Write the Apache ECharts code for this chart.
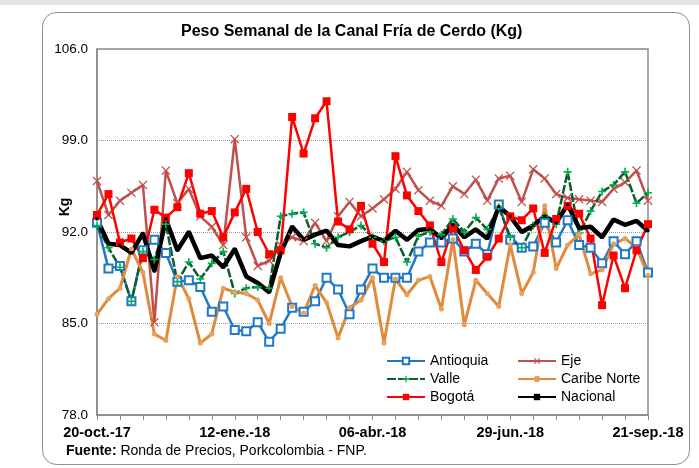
<!DOCTYPE html>
<html>
<head>
<meta charset="utf-8">
<script src="https://cdn.jsdelivr.net/npm/echarts@6/dist/echarts.min.js"></script>
<style>
  html, body { margin: 0; padding: 0; background: #fff; }
  #chart { width: 699px; height: 468px; }
</style>
</head>
<body>
<div id="chart"></div>
<script>
// semanas (viernes) de 20-oct.-17 a 21-sep.-18
var semanas = [
    '20-oct.-17', '27-oct.-17', '03-nov.-17', '10-nov.-17', '17-nov.-17', '24-nov.-17',
    '01-dic.-17', '08-dic.-17', '15-dic.-17', '22-dic.-17', '29-dic.-17', '05-ene.-18',
    '12-ene.-18', '19-ene.-18', '26-ene.-18', '02-feb.-18', '09-feb.-18', '16-feb.-18',
    '23-feb.-18', '02-mar.-18', '09-mar.-18', '16-mar.-18', '23-mar.-18', '30-mar.-18',
    '06-abr.-18', '13-abr.-18', '20-abr.-18', '27-abr.-18', '04-may.-18', '11-may.-18',
    '18-may.-18', '25-may.-18', '01-jun.-18', '08-jun.-18', '15-jun.-18', '22-jun.-18',
    '29-jun.-18', '06-jul.-18', '13-jul.-18', '20-jul.-18', '27-jul.-18', '03-ago.-18',
    '10-ago.-18', '17-ago.-18', '24-ago.-18', '31-ago.-18', '07-sep.-18', '14-sep.-18',
    '21-sep.-18'
];

var antioquia = [92.7, 89.2, 89.4, 86.7, 90.6, 91.4, 90.4, 88.2, 88.3, 87.8, 85.9, 86.3,
    84.5, 84.4, 85.1, 83.6, 84.6, 86.2, 85.9, 86.7, 88.5, 87.6, 85.7, 87.6,
    89.2, 88.5, 88.5, 88.5, 90.5, 91.2, 91.2, 91.5, 90.5, 91.1, 90.3, 94.1,
    91.4, 90.8, 90.9, 92.7, 91.2, 92.9, 91.0, 90.8, 89.6, 91.3, 90.3, 91.3, 88.9];

var eje = [95.9, 93.3, 94.4, 95.0, 95.6, 85.1, 96.7, 94.2, 95.3, 93.2, 92.4, 91.0,
    99.1, 91.6, 89.4, 89.8, 91.0, 91.6, 91.3, 92.7, 91.3, 93.2, 94.3, 93.2,
    93.8, 94.5, 95.3, 96.6, 95.2, 94.4, 94.0, 95.5, 94.9, 96.0, 94.4, 96.1,
    96.3, 94.3, 96.8, 96.1, 94.9, 94.6, 94.5, 94.4, 94.3, 95.3, 95.8, 96.7, 94.4];

var valle = [92.5, 90.8, 89.3, 86.7, 90.5, 89.9, 92.6, 88.2, 89.7, 88.4, 89.6, 90.5,
    87.3, 87.7, 87.8, 87.7, 93.2, 93.4, 93.5, 91.1, 90.8, 91.6, 92.0, 92.5,
    91.6, 91.3, 91.6, 89.7, 91.7, 92.0, 91.8, 93.0, 92.0, 93.1, 92.2, 93.9,
    91.6, 90.8, 92.5, 93.2, 92.6, 96.6, 91.9, 93.6, 95.1, 95.6, 96.6, 94.2, 95.0];

var caribeNorte = [85.7, 86.9, 87.7, 90.7, 88.9, 84.2, 83.7, 88.6, 86.9, 83.5, 84.2, 87.7,
    87.4, 87.3, 86.8, 85.0, 88.5, 86.3, 85.8, 87.9, 86.6, 83.9, 86.2, 86.8,
    88.5, 83.5, 88.4, 87.2, 88.3, 88.6, 86.1, 91.4, 84.9, 88.3, 87.3, 86.3,
    91.0, 87.3, 88.9, 94.0, 89.2, 91.0, 91.8, 88.8, 89.1, 91.1, 91.5, 90.8, 88.7];

var bogota = [93.3, 94.9, 91.2, 91.5, 90.0, 93.7, 93.1, 93.9, 96.5, 93.4, 93.6, 91.6,
    93.5, 95.3, 92.0, 90.3, 90.6, 100.8, 98.0, 100.7, 102.0, 92.8, 92.2, 94.0,
    91.1, 89.7, 97.8, 94.8, 93.6, 92.5, 89.7, 92.3, 90.6, 89.1, 90.1, 91.5,
    93.2, 92.9, 93.8, 90.4, 93.0, 94.0, 93.4, 91.5, 86.4, 90.2, 87.7, 90.6, 92.6];

var nacional = [93.0, 91.1, 91.0, 90.4, 91.9, 89.0, 93.0, 90.6, 92.0, 90.0, 90.2, 89.3,
    90.7, 88.6, 88.1, 87.4, 90.4, 92.4, 91.4, 91.8, 92.1, 91.0, 90.9, 91.3,
    91.65, 91.3, 92.1, 91.4, 92.15, 92.25, 91.5, 92.55, 91.6, 92.2, 91.5, 93.95,
    93.2, 92.0, 92.5, 93.2, 92.7, 94.1, 92.3, 92.4, 91.6, 92.95, 92.55, 92.85, 92.1];

var fuente = 'Liberation Sans, Arial, sans-serif';

// marcadores propios
var simboloX = 'path://M0,1 L1,0 L5,4 L9,0 L10,1 L6,5 L10,9 L9,10 L5,6 L1,10 L0,9 L4,5 Z';
var simboloMas = 'path://M4,0 L6,0 L6,4 L10,4 L10,6 L6,6 L6,10 L4,10 L4,6 L0,6 L0,4 L4,4 Z';

var chart = echarts.init(document.getElementById('chart'));

var leyendaBase = {
    orient: 'vertical',
    top: 354,
    padding: 0,
    itemWidth: 38,
    itemHeight: 8,
    itemGap: 4,
    textStyle: { fontFamily: fuente, fontSize: 14, color: '#000' }
};

var option = {
    backgroundColor: '#fff',
    animation: false,
    title: {
        text: 'Peso Semanal de la Canal Fría de Cerdo (Kg)',
        left: 181,
        top: 24,
        padding: 0,
        textStyle: { fontFamily: fuente, fontSize: 16, fontWeight: 'bold', color: '#000' }
    },
    legend: [
        Object.assign({}, leyendaBase, { data: ['Antioquia', 'Valle', 'Bogotá'], left: 386 }),
        Object.assign({}, leyendaBase, { data: ['Eje', 'Caribe Norte', 'Nacional'], left: 517 })
    ],
    grid: {
        left: 97,
        right: 51,
        top: 49,
        bottom: 53,
        show: true,
        borderColor: '#8a8a8a',
        borderWidth: 1.5,
        backgroundColor: 'transparent'
    },
    xAxis: {
        type: 'category',
        data: semanas,
        boundaryGap: false,
        axisLine: { lineStyle: { color: '#8a8a8a', width: 1.5 } },
        axisTick: { show: true, interval: 1, length: 5, lineStyle: { color: '#8a8a8a' } },
        axisLabel: {
            interval: 11,
            margin: 10,
            fontFamily: fuente,
            fontSize: 14.5,
            fontWeight: 'bold',
            color: '#000'
        },
        splitLine: { show: false }
    },
    yAxis: {
        type: 'value',
        min: 78,
        max: 106,
        interval: 7,
        axisLine: { show: true, lineStyle: { color: '#8a8a8a', width: 1.5 } },
        axisTick: { show: false },
        axisLabel: {
            margin: 9,
            fontFamily: fuente,
            fontSize: 13.5,
            color: '#000',
            formatter: function (v) { return v.toFixed(1); }
        },
        splitLine: { show: true, lineStyle: { color: '#9a9a9a', type: 'dotted', width: 1 } }
    },
    series: [{
        name: 'Antioquia',
        type: 'line',
        data: antioquia,
        showAllSymbol: true,
        symbol: 'emptyRect',
        symbolSize: 8,
        itemStyle: { color: '#1f78c8', borderWidth: 1.5 },
        lineStyle: { color: '#1f78c8', width: 2.5 }
    }, {
        name: 'Eje',
        type: 'line',
        data: eje,
        showAllSymbol: true,
        symbol: simboloX,
        symbolSize: 9,
        itemStyle: { color: '#c0504d' },
        lineStyle: { color: '#c0504d', width: 2.5 }
    }, {
        name: 'Valle',
        type: 'line',
        data: valle,
        showAllSymbol: true,
        symbol: simboloMas,
        symbolSize: 8,
        itemStyle: { color: '#00b050' },
        lineStyle: { color: '#0b5e2e', width: 2.5, type: [9, 2] }
    }, {
        name: 'Caribe Norte',
        type: 'line',
        data: caribeNorte,
        showAllSymbol: true,
        symbol: 'circle',
        symbolSize: 5,
        itemStyle: { color: '#e8a05c' },
        lineStyle: { color: '#e08a3c', width: 3 }
    }, {
        name: 'Bogotá',
        type: 'line',
        data: bogota,
        showAllSymbol: true,
        symbol: 'rect',
        symbolSize: 8,
        itemStyle: { color: '#ff0000' },
        lineStyle: { color: '#ff0000', width: 2.5 }
    }, {
        name: 'Nacional',
        type: 'line',
        data: nacional,
        showAllSymbol: true,
        symbol: 'rect',
        symbolSize: 3,
        itemStyle: { color: '#000' },
        lineStyle: { color: '#000', width: 4.5 }
    }],
    graphic: [{
        type: 'rect',
        silent: true,
        shape: { x: 0, y: 0, width: 699, height: 5 },
        style: { fill: '#e4e4e4' }
    }, {
        type: 'rect',
        silent: true,
        shape: { x: 42.5, y: 12.5, width: 647, height: 452, r: 14 },
        style: { fill: 'none', stroke: '#8c8c8c', lineWidth: 1 }
    }, {
        type: 'text',
        silent: true,
        x: 65,
        y: 207,
        rotation: Math.PI / 2,
        style: {
            text: 'Kg',
            font: 'bold 14px ' + fuente,
            fill: '#000',
            align: 'center',
            verticalAlign: 'middle'
        }
    }, {
        type: 'text',
        silent: true,
        left: 66,
        top: 444,
        style: {
            text: '{b|Fuente:} Ronda de Precios, Porkcolombia - FNP.',
            font: '14px ' + fuente,
            fill: '#000',
            rich: {
                b: { fontFamily: fuente, fontSize: 14, fontWeight: 'bold', fill: '#000' }
            }
        }
    }]
};

chart.setOption(option);
</script>
</body>
</html>
